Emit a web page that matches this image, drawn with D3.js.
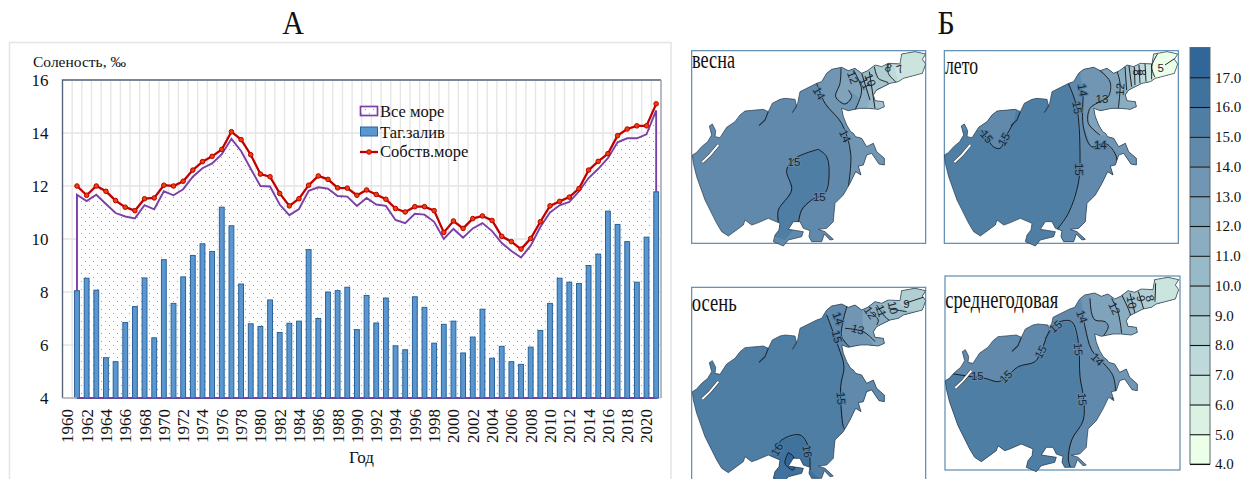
<!DOCTYPE html>
<html>
<head>
<meta charset="utf-8">
<script src="https://cdnjs.cloudflare.com/ajax/libs/d3/7.8.5/d3.min.js"></script>
<style>
html, body { margin: 0; padding: 0; background: #fff; overflow: hidden; }
svg { display: block; }
text { font-family: "Liberation Serif", serif; fill: #111; }
text.iso { font-family: "Liberation Sans", sans-serif; }
</style>
</head>
<body>
<div id="container"><svg></svg></div>
<script>
let width = 1243;
let height = 479;

// chart A, 1961..2021
let years = d3.range(1961, 2022);
let xCategories = d3.range(1960, 2022);
let xTicks = d3.range(1960, 2021, 2);
let yTicks = [4, 6, 8, 10, 12, 14, 16];
let allSea = [11.67, 11.43, 11.67, 11.32, 10.98, 10.85, 10.78, 11.28, 11.12, 11.8,
    11.65, 11.88, 12.35, 12.67, 12.85, 13.2, 13.78, 13.32, 12.65, 12.0,
    11.98, 11.3, 10.9, 11.13, 11.82, 11.95, 11.9, 11.62, 11.6, 11.25,
    11.55, 11.3, 11.25, 10.72, 10.6, 10.95, 10.92, 10.65, 10.0, 10.38,
    10.05, 10.4, 10.6, 10.3, 9.85, 9.55, 9.3, 9.75, 10.45, 11.0,
    11.27, 11.4, 11.8, 12.3, 12.65, 13.05, 13.65, 13.8, 13.8, 13.95, 14.85];
let gulf = [8.05, 8.52, 8.07, 5.52, 5.37, 6.85, 7.45, 8.53, 6.27, 9.22,
    7.57, 8.57, 9.38, 9.82, 9.53, 11.2, 10.5, 8.3, 6.8, 6.7,
    7.7, 6.47, 6.82, 6.9, 9.6, 7.0, 8.0, 8.05, 8.18, 6.58,
    7.87, 6.83, 7.77, 5.97, 5.82, 7.82, 7.42, 6.07, 6.78, 6.9,
    5.7, 6.3, 7.35, 5.5, 5.95, 5.37, 5.27, 5.92, 6.55, 7.57,
    8.52, 8.37, 8.32, 9.0, 9.43, 11.05, 10.55, 9.9, 8.37, 10.07, 11.78];
let properSea = [12.0, 11.65, 12.0, 11.8, 11.45, 11.2, 11.07, 11.52, 11.55, 12.03,
    12.0, 12.18, 12.6, 12.92, 13.12, 13.38, 14.05, 13.75, 13.18, 12.45,
    12.35, 11.72, 11.25, 11.52, 12.03, 12.38, 12.25, 11.93, 11.92, 11.65,
    11.85, 11.68, 11.5, 11.15, 11.02, 11.22, 11.22, 11.07, 10.25, 10.68,
    10.4, 10.77, 10.87, 10.7, 10.1, 9.9, 9.62, 10.02, 10.65, 11.25,
    11.42, 11.58, 11.9, 12.6, 12.93, 13.22, 13.9, 14.15, 14.27, 14.27, 15.1];

// colour bar, bands 4-5 .. 17-18
let bandValues = d3.range(4, 18);
let bandColors = ['#ebffe9', '#dbf1e3', '#cbe4de', '#bed9da', '#b1cfd3', '#a4c3cd', '#98b9c8',
    '#8badc2', '#7fa3bb', '#7196b3', '#6089ab', '#4f7ea5', '#40729e', '#316699'];
let legendTicks = d3.range(4, 18);

// coastline, in the units of one 750x645 map frame
let coast = [[22,345],[34,338],[50,320],[68,305],[80,285],[73,258],[82,252],[92,272],[90,290],[105,293],
    [125,262],[150,245],[165,225],[180,213],[235,208],[250,215],[262,190],[285,178],[300,175],[330,178],
    [335,200],[322,218],[338,190],[345,155],[395,130],[410,125],[425,100],[440,88],[470,82],[490,92],
    [510,85],[530,100],[548,92],[570,75],[590,80],[610,70],[645,72],[650,42],[690,35],[722,42],
    [712,58],[722,72],[712,100],[655,115],[640,125],[615,130],[575,150],[565,165],[570,182],[595,185],
    [598,200],[580,208],[550,205],[525,205],[490,212],[470,205],[475,230],[485,255],[497,275],[505,280],
    [512,290],[530,295],[545,320],[565,310],[575,335],[598,355],[598,375],[582,372],[560,340],[545,345],
    [535,375],[520,378],[528,405],[512,395],[495,430],[475,465],[450,490],[447,520],[445,545],[425,565],
    [400,568],[420,575],[445,598],[435,600],[418,582],[410,605],[380,605],[372,590],[375,572],[355,565],
    [345,545],[325,545],[310,568],[355,575],[350,590],[310,600],[295,618],[265,605],[270,585],[282,570],
    [285,550],[250,535],[215,550],[200,555],[180,540],[175,555],[130,588],[110,575],[95,550],[60,480],
    [35,410],[25,370]];
let spit = [[52,367],[75,345],[100,315]];
let notch = [[222,257],[240,240],[250,215]];

// zones and isolines of each season, in that panel's own frame
let springZones = [
    {v: 15, pts: [[400,328],[425,350],[432,410],[420,460],[380,480],[350,510],[340,550],[300,600],[270,590],[280,510],[320,450],[305,390],[330,355]]},
    {v: 13, pts: [[395,120],[420,190],[470,250],[497,340],[490,440],[800,440],[800,-50],[395,-50]]},
    {v: 12, pts: [[468,70],[465,130],[452,170],[480,192],[500,170],[490,150],[520,170],[530,230],[800,230],[800,-50],[468,-50]]},
    {v: 11, pts: [[505,75],[530,150],[510,225],[800,225],[800,-50],[505,-50]]},
    {v: 10, pts: [[530,85],[555,180],[540,225],[800,225],[800,-50],[530,-50]]},
    {v: 9, pts: [[553,80],[570,205],[800,225],[800,-50],[553,-50]]},
    {v: 8, pts: [[568,70],[580,115],[610,130],[575,150],[590,170],[800,225],[800,-50],[568,-50]]},
    {v: 7, pts: [[610,60],[610,100],[635,130],[800,130],[800,-50],[610,-50]]},
    {v: 6, pts: [[645,50],[630,90],[640,125],[800,125],[800,-50],[645,-50]]}
];
let springLines = [
    [[395,130],[420,190],[470,250],[497,340],[490,440]],
    [[468,85],[465,130],[452,170],[480,192],[500,170],[490,150]],
    [[505,90],[530,150],[510,210]],
    [[530,100],[555,180]],
    [[553,95],[570,205]],
    [[568,80],[580,115],[610,130],[575,150]],
    [[610,72],[610,100],[635,128]],
    [[400,328],[425,350],[432,410],[420,460],[380,480],[350,510],[340,550]],
    [[400,328],[330,355],[305,390],[320,450],[280,510],[280,545]]
];
let springLabels = [
    {t: '14', x: 402, y: 160, a: 60}, {t: '14', x: 480, y: 288, a: 65},
    {t: '15', x: 327, y: 366, a: 0}, {t: '15', x: 403, y: 470, a: 0},
    {t: '12', x: 503, y: 112, a: 70}, {t: '11', x: 540, y: 130, a: 65},
    {t: '10', x: 556, y: 120, a: 70}, {t: '8', x: 610, y: 83, a: 20}, {t: '7', x: 645, y: 87, a: -20}
];

let summerZones = [
    {v: 14, pts: [[400,125],[425,200],[435,340],[430,430],[400,520],[365,570],[370,640],[800,640],[800,-50],[400,-50]]},
    {v: 14, pts: [[140,270],[175,320],[195,325],[215,285],[235,250],[250,180],[90,180],[70,270]]},
    {v: 13, pts: [[430,60],[445,170],[445,260],[470,320],[510,310],[540,340],[545,370],[530,420],[800,420],[800,-50],[430,-50]]},
    {v: 12, pts: [[490,75],[525,125],[520,170],[495,185],[465,205],[460,250],[495,285],[540,290],[800,290],[800,-50],[490,-50]]},
    {v: 11, pts: [[540,80],[555,130],[550,230],[800,230],[800,-50],[540,-50]]},
    {v: 10, pts: [[570,70],[575,150],[800,150],[800,-50],[570,-50]]},
    {v: 9, pts: [[582,70],[590,140],[800,140],[800,-50],[582,-50]]},
    {v: 8, pts: [[598,70],[600,135],[800,135],[800,-50],[598,-50]]},
    {v: 7, pts: [[612,65],[615,130],[800,130],[800,-50],[612,-50]]},
    {v: 6, pts: [[630,60],[633,125],[800,125],[800,-50],[630,-50]]},
    {v: 5, pts: [[650,50],[650,118],[800,118],[800,-50],[650,-50]]},
    {v: 4, pts: [[670,25],[650,80],[660,115],[800,115],[800,-50],[670,-50]]}
];
let summerLines = [
    [[400,130],[425,200],[435,340],[430,430],[400,520],[365,570]],
    [[140,270],[175,320],[195,325],[215,285],[235,250]],
    [[445,165],[445,260],[470,320],[510,310],[540,340],[545,370],[530,405]],
    [[490,88],[525,125],[520,170],[495,185],[465,205],[460,250],[495,285]],
    [[545,90],[555,130],[550,205]],
    [[570,80],[575,150]], [[582,78],[590,140]], [[598,80],[600,135]], [[612,75],[615,130]],
    [[630,70],[633,125]], [[650,65],[650,118]], [[670,38],[650,80],[660,112]], [[690,75],[720,55]]
];
let summerLabels = [
    {t: '14', x: 443, y: 150, a: 80}, {t: '15', x: 427, y: 203, a: 80}, {t: '15', x: 432, y: 388, a: 90},
    {t: '15', x: 155, y: 290, a: 50}, {t: '15', x: 207, y: 298, a: -60}, {t: '13', x: 501, y: 177, a: 0},
    {t: '14', x: 496, y: 315, a: 0}, {t: '12', x: 555, y: 148, a: -85},
    {t: '8', x: 605, y: 97, a: 90}, {t: '8', x: 620, y: 97, a: 90}, {t: '5', x: 677, y: 83, a: 0}
];

let autumnZones = [
    {v: 16, pts: [[255,560],[270,540],[290,510],[345,495],[370,530],[375,600],[440,660],[255,660]]},
    {v: 17, pts: [[310,548],[300,580],[325,600],[325,560]]},
    {v: 14, pts: [[425,130],[460,230],[477,290],[467,350],[475,475],[800,475],[800,-50],[425,-50]]},
    {v: 13, pts: [[487,90],[475,150],[470,200],[500,240],[800,240],[800,-50],[487,-50]]},
    {v: 12, pts: [[530,90],[535,180],[570,230],[800,230],[800,-50],[530,-50]]},
    {v: 11, pts: [[555,90],[555,125],[580,150],[570,180],[800,180],[800,-50],[555,-50]]},
    {v: 10, pts: [[575,85],[605,145],[640,170],[800,170],[800,-50],[575,-50]]},
    {v: 9, pts: [[600,80],[635,120],[665,125],[800,125],[800,-50],[600,-50]]},
    {v: 8, pts: [[645,70],[640,95],[665,122],[800,122],[800,-50],[645,-50]]}
];
let autumnLines = [
    [[425,135],[460,230],[477,290],[467,350],[475,470],[480,478]],
    [[487,105],[475,150],[470,200],[500,237]],
    [[480,175],[535,185],[570,215]],
    [[555,125],[580,150],[575,165]],
    [[575,105],[605,145],[640,165]],
    [[610,115],[635,120],[665,125]],
    [[660,100],[720,80]],
    [[265,550],[290,510],[345,495],[370,530],[375,600]],
    [[310,548],[300,580],[325,600],[325,560],[310,548]]
];
let autumnLabels = [
    {t: '14', x: 460, y: 145, a: 70}, {t: '15', x: 456, y: 200, a: 75}, {t: '15', x: 468, y: 385, a: 85},
    {t: '13', x: 518, y: 178, a: 15}, {t: '12', x: 556, y: 128, a: 55}, {t: '11', x: 588, y: 122, a: 70},
    {t: '10', x: 624, y: 113, a: 75}, {t: '9', x: 664, y: 103, a: 0},
    {t: '16', x: 276, y: 538, a: -60}, {t: '16', x: 367, y: 544, a: 80}
];

let annualZones = [
    {v: 15, pts: [[45,310],[110,320],[150,325],[190,335],[215,320],[250,290],[300,275],[320,240],[345,180],[375,155],[410,155],[430,215],[435,320],[445,380],[445,450],[410,510],[400,570],[410,640],[0,640],[0,340]]},
    {v: 13, pts: [[440,100],[450,170],[470,240],[515,290],[535,320],[540,370],[525,420],[800,420],[800,-50],[440,-50]]},
    {v: 12, pts: [[465,70],[470,130],[480,150],[510,155],[520,170],[500,205],[540,260],[800,260],[800,-50],[465,-50]]},
    {v: 11, pts: [[530,70],[550,130],[560,200],[800,200],[800,-50],[530,-50]]},
    {v: 10, pts: [[560,60],[585,130],[590,170],[800,170],[800,-50],[560,-50]]},
    {v: 9, pts: [[585,55],[600,135],[800,135],[800,-50],[585,-50]]},
    {v: 8, pts: [[610,50],[630,130],[800,130],[800,-50],[610,-50]]},
    {v: 6, pts: [[662,30],[660,95],[800,95],[800,-50],[662,-50]]}
];
let annualLines = [
    [[45,310],[110,320],[150,325],[190,335],[215,320],[250,290],[300,275],[320,240],[345,180],[375,155],[410,155],[430,215],[435,320],[445,380],[445,450],[410,510],[400,570],[410,600]],
    [[440,120],[450,170],[470,240],[515,290],[535,320],[540,370],[525,395]],
    [[465,85],[470,130],[480,150],[510,155],[520,170],[500,205]],
    [[530,85],[550,130],[560,190]],
    [[560,75],[585,130],[590,170]],
    [[585,70],[600,130]], [[610,65],[630,130]], [[662,40],[660,95]]
];
let annualLabels = [
    {t: '15', x: 127, y: 318, a: 0}, {t: '15', x: 213, y: 320, a: -45}, {t: '15', x: 317, y: 246, a: -60},
    {t: '15', x: 362, y: 170, a: -40}, {t: '15', x: 430, y: 238, a: 85}, {t: '15', x: 442, y: 388, a: 85},
    {t: '14', x: 441, y: 140, a: 70}, {t: '14', x: 487, y: 268, a: 45}, {t: '12', x: 538, y: 115, a: 65},
    {t: '10', x: 590, y: 97, a: 80}, {t: '9', x: 618, y: 85, a: 80}, {t: '8', x: 645, y: 85, a: 75}
];

let panels = [
    {name: 'весна', ox: 685, oy: 40, dx: 0, dy: 0, base: 14, zones: springZones, lines: springLines, labels: springLabels,
        frame: [20, 32, 722, 610], title: [21, 85, 43]},
    {name: 'лето', ox: 935, oy: 40, dx: 6, dy: 0, base: 15, zones: summerZones, lines: summerLines, labels: summerLabels,
        frame: [28, 32, 730, 610], title: [30, 103, 33]},
    {name: 'осень', ox: 685, oy: 270, dx: 0, dy: 20, base: 15, zones: autumnZones, lines: autumnLines, labels: autumnLabels,
        frame: [20, 52, 722, 640], title: [20, 124, 45]},
    {name: 'среднегодовая', ox: 935, oy: 270, dx: 9, dy: -13, base: 14, zones: annualZones, lines: annualLines, labels: annualLabels,
        frame: [30, 18, 735, 600], title: [31, 115, 113]}
];

function draw_main() {
    let svg = d3.select('svg').attr('width', width).attr('height', height);
    svg.append('rect').attr('width', width).attr('height', height).attr('fill', '#fff');

    let defs = svg.append('defs');
    let dots = defs.append('pattern').attr('id', 'dots').attr('patternUnits', 'userSpaceOnUse')
        .attr('width', 8).attr('height', 8);
    dots.append('rect').attr('width', 8).attr('height', 8).attr('fill', '#fff');
    dots.append('circle').attr('cx', 1.5).attr('cy', 1.5).attr('r', 0.55).attr('fill', '#8a8a8a');
    dots.append('circle').attr('cx', 5.5).attr('cy', 5.5).attr('r', 0.55).attr('fill', '#8a8a8a');

    draw_title(svg, 'А', 293, 34);
    draw_title(svg, 'Б', 946, 34);
    draw_chart(svg);
    panels.forEach((p, i) => draw_map(svg, defs, p, i));
    draw_colorbar(svg);
}

function draw_title(svg, s, cx, y) {
    svg.append('text')
        .attr('transform', `translate(${cx},${y}) scale(1,1.13)`)
        .attr('text-anchor', 'middle').attr('font-size', 30).text(s);
}

function draw_chart(svg) {
    let left = 62.5, right = 661, top = 80, bottom = 398;

    // chart frame
    svg.append('rect').attr('x', 9.5).attr('y', 42.5).attr('width', 661.5).attr('height', 460)
        .attr('fill', '#fff').attr('stroke', '#e4e4e4').attr('stroke-width', 1.5);

    let x = d3.scaleBand().domain(xCategories).range([left, right]).paddingInner(0.5).paddingOuter(0.25);
    let step = x.step();
    let cx = d => x(d) + x.bandwidth() / 2;
    let y = d3.scaleLinear().domain([4, 16]).range([bottom, top]);

    // grid
    svg.append('g').selectAll('line').data(xCategories).join('line')
        .attr('x1', d => cx(d) + step / 2).attr('x2', d => cx(d) + step / 2)
        .attr('y1', top).attr('y2', bottom)
        .attr('stroke', '#e6e6e6').attr('stroke-width', 1.4);
    svg.append('g').selectAll('line').data(yTicks).join('line')
        .attr('x1', left).attr('x2', right).attr('y1', d => y(d)).attr('y2', d => y(d))
        .attr('stroke', '#e4e4e4').attr('stroke-width', 1.6);

    // whole sea: dotted area with a purple outline
    let area = d3.area().x((d, i) => cx(years[i])).y0(bottom).y1(d => y(d));
    svg.append('path').datum(allSea).attr('d', d => area(d) + 'Z')
        .attr('fill', 'url(#dots)').attr('stroke', '#7b3fa8').attr('stroke-width', 1.9);

    // bars
    svg.append('g').selectAll('rect').data(gulf).join('rect')
        .attr('x', (d, i) => x(years[i])).attr('width', x.bandwidth())
        .attr('y', d => y(d)).attr('height', d => y(4) - y(d))
        .attr('fill', '#5a97d0').attr('stroke', '#2b6298').attr('stroke-width', 1);

    // plot border
    svg.append('path').attr('d', `M${left},${bottom}V${top}H${right}`)
        .attr('fill', 'none').attr('stroke', '#56657a').attr('stroke-width', 1.4);
    svg.append('path').attr('d', `M${right},${top}V${bottom}`)
        .attr('stroke', '#a0a4aa').attr('stroke-width', 1.4);
    svg.append('path').attr('d', `M${left},${bottom}H${cx(years[0])}`)
        .attr('stroke', '#b5b5b5').attr('stroke-width', 1.6);

    // proper sea line
    let line = d3.line().x((d, i) => cx(years[i])).y(d => y(d));
    svg.append('path').datum(properSea).attr('d', line)
        .attr('fill', 'none').attr('stroke', '#c00000').attr('stroke-width', 2.3);
    svg.append('g').selectAll('circle').data(properSea).join('circle')
        .attr('cx', (d, i) => cx(years[i])).attr('cy', d => y(d)).attr('r', 2.3)
        .attr('fill', '#e8420a').attr('stroke', '#c00000').attr('stroke-width', 1);

    // axes
    let axisY = d3.axisLeft(y).tickValues(yTicks).tickSize(0).tickPadding(14);
    let gy = svg.append('g').attr('transform', `translate(${left},0)`).call(axisY);
    gy.select('.domain').remove();
    gy.selectAll('text').attr('font-size', 17).attr('font-family', '"Liberation Serif", serif');

    let axisX = d3.axisBottom(x).tickValues(xTicks).tickSize(0);
    let gx = svg.append('g').attr('transform', `translate(0,${bottom})`).call(axisX);
    gx.select('.domain').remove();
    gx.selectAll('text')
        .attr('font-size', 17).attr('font-family', '"Liberation Serif", serif')
        .attr('text-anchor', 'end')
        .attr('transform', 'rotate(-90)')
        .attr('x', -11).attr('y', 0).attr('dy', '0.35em');

    svg.append('text').attr('x', 33).attr('y', 67).attr('font-size', 15.5).text('Соленость, ‰');
    svg.append('text').attr('x', 361.5).attr('y', 463).attr('text-anchor', 'middle').attr('font-size', 17).text('Год');

    // legend
    let lg = svg.append('g').attr('font-size', 16.5);
    lg.append('rect').attr('x', 360.5).attr('y', 106.5).attr('width', 17).attr('height', 9)
        .attr('fill', 'url(#dots)').attr('stroke', '#7b3fa8').attr('stroke-width', 1.7);
    lg.append('rect').attr('x', 360.5).attr('y', 127).attr('width', 17).attr('height', 9)
        .attr('fill', '#5a97d0').attr('stroke', '#2b6298');
    lg.append('line').attr('x1', 360).attr('x2', 378).attr('y1', 152).attr('y2', 152)
        .attr('stroke', '#c00000').attr('stroke-width', 2.3);
    lg.append('circle').attr('cx', 369).attr('cy', 152).attr('r', 2.3)
        .attr('fill', '#e8420a').attr('stroke', '#c00000');
    lg.append('text').attr('x', 380).attr('y', 116.5).text('Все море');
    lg.append('text').attr('x', 380).attr('y', 137.5).text('Таг.залив');
    lg.append('text').attr('x', 380).attr('y', 157).text('Собств.море');
}

function draw_map(svg, defs, p, idx) {
    let x = d3.scaleLinear().domain([0, 750]).range([p.ox, p.ox + 250]);
    let y = d3.scaleLinear().domain([0, 645]).range([p.oy, p.oy + 215]);
    let band = v => bandColors[bandValues.indexOf(v)];
    let coastLine = d3.line().x(d => x(d[0] + p.dx)).y(d => y(d[1] + p.dy));
    let smooth = d3.line().x(d => x(d[0])).y(d => y(d[1])).curve(d3.curveCatmullRom.alpha(0.5));
    let poly = d3.line().x(d => x(d[0])).y(d => y(d[1])).curve(d3.curveLinearClosed);

    let id = 'coast' + idx;
    defs.append('clipPath').attr('id', id).append('path').attr('d', coastLine(coast) + 'Z');

    let g = svg.append('g');
    let f = p.frame;
    g.append('rect').attr('x', x(f[0])).attr('y', y(f[1]))
        .attr('width', x(f[2]) - x(f[0])).attr('height', y(f[3]) - y(f[1]))
        .attr('fill', '#fff').attr('stroke', '#5b8bb0').attr('stroke-width', 1.2);

    let sea = g.append('g').attr('clip-path', `url(#${id})`);
    sea.append('rect').attr('x', p.ox).attr('y', p.oy).attr('width', 260).attr('height', 225).attr('fill', band(p.base));
    sea.selectAll('path.zone').data(p.zones).join('path').attr('class', 'zone')
        .attr('d', d => poly(d.pts)).attr('fill', d => band(d.v));
    sea.selectAll('path.iso').data(p.lines).join('path').attr('class', 'iso')
        .attr('d', d => smooth(d)).attr('fill', 'none').attr('stroke', '#111').attr('stroke-width', 0.9);

    g.append('path').attr('d', coastLine(coast) + 'Z').attr('fill', 'none')
        .attr('stroke', '#2a3a4a').attr('stroke-width', 0.7);
    g.append('path').attr('d', coastLine(spit)).attr('fill', 'none').attr('stroke', '#333').attr('stroke-width', 3);
    g.append('path').attr('d', coastLine(spit)).attr('fill', 'none').attr('stroke', '#fff').attr('stroke-width', 2);
    g.append('path').attr('d', coastLine(notch)).attr('fill', 'none').attr('stroke', '#1a2a3a').attr('stroke-width', 1.1);

    // only the dark western labels get a halo, the eastern ones sit on pale bands
    g.selectAll('text.iso').data(p.labels).join('text').attr('class', 'iso')
        .attr('transform', d => `translate(${x(d.x)},${y(d.y)}) rotate(${d.a})`)
        .attr('text-anchor', 'middle').attr('dy', '0.35em').attr('font-size', 11.5)
        .attr('stroke', band(p.base)).attr('stroke-width', d => d.x < 500 ? 2 : 0).attr('paint-order', 'stroke')
        .style('fill', '#1b2530').text(d => d.t);

    // season label is stretched upright in the source picture
    g.append('text')
        .attr('transform', `translate(${x(p.title[0])},${y(p.title[1])}) scale(1,1.35)`)
        .attr('font-size', 18.5).attr('textLength', p.title[2]).attr('lengthAdjust', 'spacingAndGlyphs')
        .text(p.name);
}

function draw_colorbar(svg) {
    let y = d3.scaleLinear().domain([4, 18]).range([464, 47.5]);
    let bar = svg.append('g');
    bar.selectAll('rect').data(bandValues).join('rect')
        .attr('x', 1190).attr('width', 20)
        .attr('y', d => y(d + 1)).attr('height', d => y(d) - y(d + 1))
        .attr('fill', (d, i) => bandColors[i]);
    bar.append('rect').attr('x', 1190).attr('y', y(18)).attr('width', 20).attr('height', y(4) - y(18))
        .attr('fill', 'none').attr('stroke', '#5a6a72').attr('stroke-width', 1);

    let axis = d3.axisRight(y).tickValues(legendTicks).tickSize(-20).tickPadding(5).tickFormat(d3.format('.1f'));
    let ga = svg.append('g').attr('transform', 'translate(1210,0)').call(axis);
    ga.select('.domain').remove();
    ga.selectAll('line').attr('stroke', '#111').attr('stroke-width', 1.1);
    ga.selectAll('text').attr('font-size', 15).attr('font-family', '"Liberation Serif", serif');
}

function main() {
    draw_main();
}

main();
</script>
</body>
</html>
